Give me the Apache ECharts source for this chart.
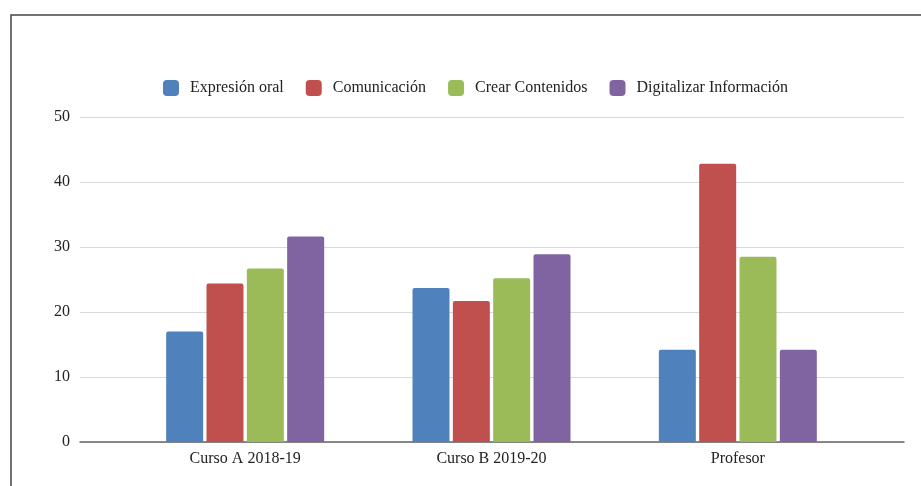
<!DOCTYPE html>
<html>
<head>
<meta charset="utf-8">
<script src="https://cdn.jsdelivr.net/npm/echarts@6/dist/echarts.min.js"></script>
<style>html,body{margin:0;padding:0;background:#fff;}#c{width:921px;height:486px;}</style>
</head>
<body>
<div id="c"></div>
<script>
const categories = ['Curso A 2018-19', 'Curso B 2019-20', 'Profesor'];
const seriesNames = ['Expresión oral', 'Comunicación', 'Crear Contenidos', 'Digitalizar Información'];
const expresionOral = [17, 23.7, 14.2];
const comunicacion = [24.4, 21.7, 42.8];
const crearContenidos = [26.7, 25.2, 28.5];
const digitalizarInformacion = [31.6, 28.9, 14.2];
const yTicks = [0, 10, 20, 30, 40, 50];
const colors = ['#4f81bd', '#c0504d', '#9bbb59', '#8064a2'];

const seriesData = [expresionOral, comunicacion, crearContenidos, digitalizarInformacion];
const font = 'Liberation Serif';
const chart = echarts.init(document.getElementById('c'), null, {renderer: 'canvas'});
chart.setOption({
  animation: false,
  backgroundColor: '#fff',
  graphic: [{
    type: 'rect', silent: true,
    shape: {x: 11, y: 15, width: 1000, height: 1000},
    style: {fill: 'none', stroke: '#444', lineWidth: 1.5}
  }],
  legend: {
    top: 80, left: 163, padding: 0,
    itemWidth: 16, itemHeight: 16, itemGap: 22,
    icon: 'roundRect',
    data: seriesNames,
    textStyle: {fontFamily: font, fontSize: 16, color: '#222', padding: [0, 0, 0, 6]}
  },
  grid: [
    {left: 80, right: 17, top: 117, bottom: 44},
    {left: 122, right: 60, top: 117, bottom: 44}
  ],
  xAxis: [
    {type: 'category', gridIndex: 0, data: [''],
     axisLine: {lineStyle: {color: '#666', width: 1.5}}, axisTick: {show: false}, axisLabel: {show: false}},
    {type: 'category', gridIndex: 1, data: categories,
     axisLine: {show: false}, axisTick: {show: false},
     axisLabel: {fontFamily: font, fontSize: 16, color: '#222', margin: 9}}
  ],
  yAxis: [
    {type: 'value', gridIndex: 0, min: 0, max: 50, interval: 10,
     axisLine: {show: false}, axisTick: {show: false},
     axisLabel: {fontFamily: font, fontSize: 16, color: '#222', margin: 10,
       formatter: v => yTicks.includes(v) ? String(v) : ''},
     splitLine: {lineStyle: {color: '#d9d9d9', width: 1.2}}},
    {type: 'value', gridIndex: 1, min: 0, max: 50, interval: 10, show: false, splitLine: {show: false}}
  ],
  series: seriesNames.map((name, i) => ({
    name, type: 'bar', xAxisIndex: 1, yAxisIndex: 1,
    data: seriesData[i],
    barWidth: 37, barGap: '9%',
    itemStyle: {color: colors[i], borderRadius: [2, 2, 0, 0]}
  }))
});
</script>
</body>
</html>
